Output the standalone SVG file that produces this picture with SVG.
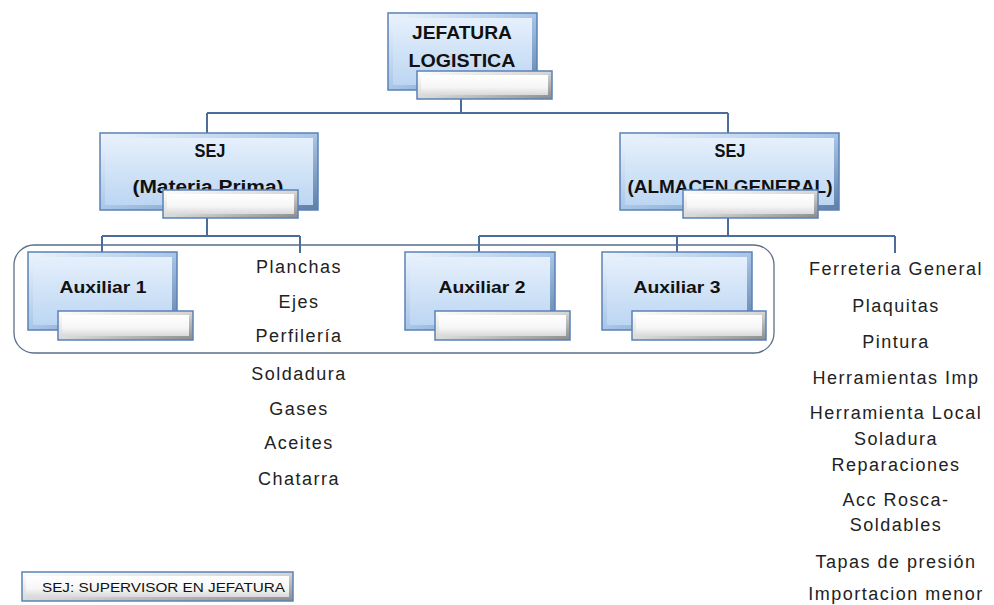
<svg xmlns="http://www.w3.org/2000/svg" width="994" height="605" viewBox="0 0 994 605">
<defs>
<linearGradient id="bevB" x1="0" y1="0" x2="1" y2="1">
<stop offset="0" stop-color="#eef5fd"/><stop offset="0.5" stop-color="#a9c6e8"/><stop offset="1" stop-color="#5d7fa8"/>
</linearGradient>
<linearGradient id="faceB" x1="0" y1="0" x2="0" y2="1">
<stop offset="0" stop-color="#e6f0fc"/><stop offset="1" stop-color="#bcd6f2"/>
</linearGradient>
<linearGradient id="bevW" x1="0" y1="0" x2="1" y2="1">
<stop offset="0" stop-color="#ffffff"/><stop offset="0.5" stop-color="#d8d8d8"/><stop offset="1" stop-color="#8a8a8a"/>
</linearGradient>
<linearGradient id="faceW" x1="0" y1="0" x2="0" y2="1">
<stop offset="0" stop-color="#ffffff"/><stop offset="0.6" stop-color="#f6f6f6"/><stop offset="1" stop-color="#d9d9d9"/>
</linearGradient>
</defs>
<style>
.ob{fill:url(#bevB);stroke:#5b82b6;stroke-width:1.5}
.fb{fill:url(#faceB)}
.ow{fill:url(#bevW);stroke:#5b82b6;stroke-width:1.5}
.fw{fill:url(#faceW)}
.bt{font-family:"Liberation Sans",Arial,sans-serif;font-weight:bold;fill:#111;text-anchor:middle}
.lt{font-family:"Liberation Sans",Arial,sans-serif;font-size:18px;letter-spacing:1.5px;fill:#222;text-anchor:middle}
.cn{fill:none;stroke:#4a6d99;stroke-width:2}
</style>
<rect width="994" height="605" fill="#fff"/>
<rect id="container" x="14" y="245" width="760" height="108" rx="20" fill="none" stroke="#5a6f88" stroke-width="1.3"/>
<g id="connectors" class="cn">
<path d="M461 99V113M207 113H728M207 113V133M728 113V133"/>
<path d="M207 218V236M102 236H300M102 236V252M300 236V253"/>
<path d="M728 218V236M479 236H895M479 236V252M677 236V252M895 236V253"/>
</g>
<g id="jefatura">
<rect class="ob" x="388" y="13" width="149" height="77"/>
<rect class="fb" x="393" y="18" width="139" height="67"/>
<text class="bt" x="462" y="39" font-size="19" textLength="100" lengthAdjust="spacingAndGlyphs">JEFATURA</text>
<text class="bt" x="462" y="67" font-size="19" textLength="107" lengthAdjust="spacingAndGlyphs">LOGISTICA</text>
<rect class="ow" x="417" y="71" width="135" height="28"/>
<rect class="fw" x="421" y="75" width="127" height="20"/>
</g>
<g id="sej-mp">
<rect class="ob" x="100" y="133" width="218" height="77"/>
<rect class="fb" x="105" y="138" width="208" height="67"/>
<text class="bt" x="210" y="157" font-size="18" textLength="31" lengthAdjust="spacingAndGlyphs">SEJ</text>
<text class="bt" x="208" y="193" font-size="18" textLength="151" lengthAdjust="spacingAndGlyphs">(Materia Prima)</text>
<rect class="ow" x="163" y="190" width="135" height="28"/>
<rect class="fw" x="167" y="194" width="127" height="20"/>
</g>
<g id="sej-ag">
<rect class="ob" x="620" y="133" width="219" height="77"/>
<rect class="fb" x="625" y="138" width="209" height="67"/>
<text class="bt" x="730" y="157" font-size="18" textLength="31" lengthAdjust="spacingAndGlyphs">SEJ</text>
<text class="bt" x="730" y="193" font-size="18" textLength="205" lengthAdjust="spacingAndGlyphs">(ALMACEN GENERAL)</text>
<rect class="ow" x="683" y="190" width="135" height="28"/>
<rect class="fw" x="687" y="194" width="127" height="20"/>
</g>
<g id="aux1">
<rect class="ob" x="28" y="252" width="149" height="78"/>
<rect class="fb" x="33" y="257" width="139" height="68"/>
<text class="bt" x="103" y="293" font-size="17" textLength="87" lengthAdjust="spacingAndGlyphs">Auxiliar 1</text>
<rect class="ow" x="58" y="311" width="135" height="29"/>
<rect class="fw" x="62" y="315" width="127" height="21"/>
</g>
<g id="aux2">
<rect class="ob" x="405" y="252" width="150" height="78"/>
<rect class="fb" x="410" y="257" width="140" height="68"/>
<text class="bt" x="482" y="293" font-size="17" textLength="87" lengthAdjust="spacingAndGlyphs">Auxiliar 2</text>
<rect class="ow" x="435" y="311" width="135" height="29"/>
<rect class="fw" x="439" y="315" width="127" height="21"/>
</g>
<g id="aux3">
<rect class="ob" x="602" y="252" width="150" height="78"/>
<rect class="fb" x="607" y="257" width="140" height="68"/>
<text class="bt" x="677" y="293" font-size="17" textLength="87" lengthAdjust="spacingAndGlyphs">Auxiliar 3</text>
<rect class="ow" x="632" y="311" width="134" height="29"/>
<rect class="fw" x="636" y="315" width="126" height="21"/>
</g>
<g id="list-mp" class="lt">
<text x="299" y="273">Planchas</text>
<text x="299" y="308">Ejes</text>
<text x="299" y="342">Perfilería</text>
<text x="299" y="380">Soldadura</text>
<text x="299" y="415">Gases</text>
<text x="299" y="449">Aceites</text>
<text x="299" y="485">Chatarra</text>
</g>
<g id="list-ag" class="lt">
<text x="896" y="275">Ferreteria General</text>
<text x="896" y="312">Plaquitas</text>
<text x="896" y="348">Pintura</text>
<text x="896" y="384">Herramientas Imp</text>
<text x="896" y="419">Herramienta Local</text>
<text x="896" y="445">Soladura</text>
<text x="896" y="471">Reparaciones</text>
<text x="896" y="506">Acc Rosca-</text>
<text x="896" y="531">Soldables</text>
<text x="896" y="568">Tapas de presión</text>
<text x="896" y="600">Importacion menor</text>
</g>
<g id="legend">
<rect class="ow" x="22" y="572" width="271" height="29"/>
<rect class="fw" x="26" y="576" width="263" height="21"/>
<text x="42" y="592" font-family="Liberation Sans,Arial,sans-serif" font-size="13" fill="#111" textLength="243" lengthAdjust="spacingAndGlyphs">SEJ: SUPERVISOR EN JEFATURA</text>
</g>
</svg>
